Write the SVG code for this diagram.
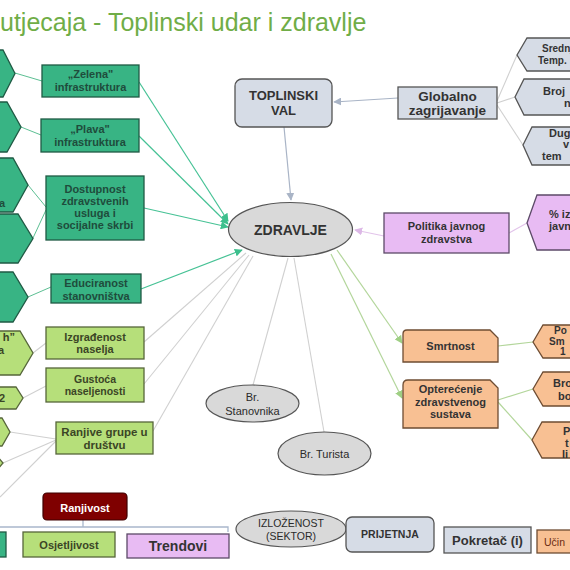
<svg xmlns="http://www.w3.org/2000/svg" width="570" height="570" viewBox="0 0 570 570">
<style>
text{font-family:"Liberation Sans",Arial,sans-serif;font-weight:bold;text-anchor:middle}
.dg{fill:#38b484;stroke:#1f5a44;stroke-width:1.3}
.lg{fill:#b6df7a;stroke:#56663a;stroke-width:1.3}
.pk{fill:#e8bbf3;stroke:#5c4a68;stroke-width:1.3}
.or{fill:#f8c093;stroke:#6e4c32;stroke-width:1.3}
.gb{fill:#d6dce6;stroke:#555;stroke-width:1.3}
.el{fill:#d9d9d9;stroke:#555;stroke-width:1.2}
.tdg{fill:#1f4c3c;font-size:11px}
.tlg{fill:#3b4526;font-size:11px}
.tk{fill:#333;font-size:11px}
.reg{font-weight:normal;fill:#2a2a2a}
.cg{stroke:#46c295;stroke-width:1.2;fill:none}
.cgl{stroke:#5cbf93;stroke-width:1;fill:none}
.cgr{stroke:#d0d0d0;stroke-width:1.1;fill:none}
.cb{stroke:#a9b4c6;stroke-width:1.2;fill:none}
.cp{stroke:#e2c4ea;stroke-width:1.2;fill:none}
.cl{stroke:#b3d69b;stroke-width:1.2;fill:none}
</style>
<defs>
<marker id="mG" viewBox="0 0 10 10" refX="9" refY="5" markerWidth="8" markerHeight="8" markerUnits="userSpaceOnUse" orient="auto"><path d="M0,0L10,5L0,10z" fill="#3dbf8d"/></marker>
<marker id="mB" viewBox="0 0 10 10" refX="9" refY="5" markerWidth="8" markerHeight="8" markerUnits="userSpaceOnUse" orient="auto"><path d="M0,0L10,5L0,10z" fill="#a9b4c6"/></marker>
<marker id="mP" viewBox="0 0 10 10" refX="9" refY="5" markerWidth="8" markerHeight="8" markerUnits="userSpaceOnUse" orient="auto"><path d="M0,0L10,5L0,10z" fill="#dcb8e6"/></marker>
<marker id="mL" viewBox="0 0 10 10" refX="9" refY="5" markerWidth="8" markerHeight="8" markerUnits="userSpaceOnUse" orient="auto"><path d="M0,0L10,5L0,10z" fill="#9fcf84"/></marker>
</defs>

<text x="0" y="31" style="font-size:25px;font-weight:normal;fill:#70ad47;text-anchor:start">utjecaja - Toplinski  udar i zdravlje</text>

<g id="connectors">
<line class="cg" x1="139" y1="82" x2="228" y2="221" marker-end="url(#mG)"/>
<line class="cg" x1="139" y1="136" x2="228" y2="224" marker-end="url(#mG)"/>
<line class="cg" x1="144" y1="208" x2="228" y2="227" marker-end="url(#mG)"/>
<line class="cg" x1="141" y1="289" x2="242" y2="250" marker-end="url(#mG)"/>
<line class="cgr" x1="144" y1="342" x2="246" y2="253"/>
<line class="cgr" x1="144" y1="384" x2="249" y2="255"/>
<line class="cgr" x1="153" y1="431" x2="253" y2="256"/>
<line class="cb" x1="398" y1="98" x2="334" y2="102" marker-end="url(#mB)"/>
<line class="cb" x1="284" y1="127" x2="291" y2="200" marker-end="url(#mB)"/>
<line class="cp" x1="384" y1="236" x2="355" y2="230" marker-end="url(#mP)"/>
<line class="cl" x1="337" y1="250" x2="402" y2="343" marker-end="url(#mL)"/>
<line class="cl" x1="331" y1="254" x2="402" y2="398" marker-end="url(#mL)"/>
<line class="cgr" x1="253" y1="385" x2="288" y2="258"/>
<line class="cgr" x1="324" y1="432" x2="294" y2="258"/>
<line class="cgl" x1="15" y1="73" x2="42" y2="81"/>
<line class="cgl" x1="21" y1="127" x2="41" y2="135"/>
<line class="cgl" x1="28" y1="185" x2="46" y2="207"/>
<line class="cgl" x1="33" y1="238" x2="46" y2="210"/>
<line class="cgl" x1="28" y1="297" x2="51" y2="287"/>
<line class="cgr" x1="33" y1="353" x2="46" y2="343"/>
<line class="cgr" x1="23" y1="398" x2="46" y2="386"/>
<line class="cgr" x1="10" y1="432" x2="56" y2="439"/>
<line class="cgr" x1="3" y1="463" x2="56" y2="440"/>
<line class="cgr" x1="0" y1="497" x2="56" y2="441"/>
<line class="cgr" x1="497" y1="101" x2="517" y2="55"/>
<line class="cgr" x1="497" y1="103" x2="515" y2="97"/>
<line class="cgr" x1="497" y1="105" x2="523" y2="145"/>
<line class="cp" x1="509" y1="233" x2="527" y2="223"/>
<line class="cl" x1="498" y1="346" x2="533" y2="342"/>
<line class="cl" x1="498" y1="400" x2="533" y2="389"/>
<line class="cl" x1="498" y1="402" x2="532" y2="440"/>
<path d="M0,527H228V532M83,520V527" stroke="#a9b7cc" stroke-width="1.3" fill="none"/>
</g>

<g id="hexL1"><polygon class="dg" points="-40,50 3,50 15,73.5 3,97 -40,97"/></g>
<g id="hexL2"><polygon class="dg" points="-40,102 7,102 21,127 7,152 -40,152"/></g>
<g id="hexL3"><polygon class="dg" points="-40,158 13,158 28,185 13,212 -40,212"/><text class="tdg" x="-1" y="207" style="text-anchor:start">a</text></g>
<g id="hexL4"><polygon class="dg" points="-40,214 18,214 33,238.5 18,263 -40,263"/></g>
<g id="hexL5"><polygon class="dg" points="-40,272 13,272 28,297 13,322 -40,322"/></g>
<g id="hexL6"><polygon class="lg" points="-40,331 20,331 33,353 20,375 -40,375"/><text class="tlg" x="15" y="341" style="text-anchor:end">h”</text><text class="tlg" x="4" y="354" style="text-anchor:end">a</text></g>
<g id="hexL7"><polygon class="lg" points="-40,387 16,387 23,398 16,409 -40,409"/><text class="tlg" x="5" y="402" style="text-anchor:end">2</text></g>
<g id="hexL8"><polygon class="lg" points="-40,418 2,418 10,432 2,446 -40,446"/></g>
<g id="hexL9"><polygon class="lg" points="-40,457 -2,457 3,463 -2,469 -40,469"/></g>

<g id="zelena"><rect class="dg" x="42" y="65" width="97" height="32"/><text class="tdg" x="90.5" y="78">„Zelena"</text><text class="tdg" x="90.5" y="91">infrastruktura</text></g>
<g id="plava"><rect class="dg" x="41" y="119" width="98" height="33"/><text class="tdg" x="90" y="133">„Plava"</text><text class="tdg" x="90" y="146">infrastruktura</text></g>
<g id="dostupnost"><rect class="dg" x="46" y="176" width="98" height="64"/><text class="tdg" x="95" y="193">Dostupnost</text><text class="tdg" x="95" y="205">zdravstvenih</text><text class="tdg" x="95" y="217">usluga  i</text><text class="tdg" x="95" y="229">socijalne skrbi</text></g>
<g id="educiranost"><rect class="dg" x="51" y="274" width="90" height="29"/><text class="tdg" x="96" y="287">Educiranost</text><text class="tdg" x="96" y="300">stanovništva</text></g>
<g id="izgradenost"><rect class="lg" x="46" y="327" width="98" height="32"/><text class="tlg" x="95" y="341">Izgrađenost</text><text class="tlg" x="95" y="353">naselja</text></g>
<g id="gustoca"><rect class="lg" x="46" y="368" width="98" height="34"/><text class="tlg" x="95" y="383" style="font-size:10.5px">Gustoća</text><text class="tlg" x="95" y="395" style="font-size:10.5px">naseljenosti</text></g>
<g id="ranjive"><rect class="lg" x="56" y="422" width="97" height="32"/><text class="tlg" x="104.5" y="436" style="font-size:11.5px">Ranjive grupe u</text><text class="tlg" x="104.5" y="449" style="font-size:11.5px">društvu</text></g>

<g id="ranjivost"><rect x="43" y="493" width="84" height="27" rx="4" fill="#7f0000" stroke="#3f0000" stroke-width="1.2"/><text x="85" y="512" style="fill:#fff;font-size:11px">Ranjivost</text></g>
<g id="legendDG"><rect class="dg" x="-40" y="532" width="46" height="25"/></g>
<g id="osjetljivost"><rect class="lg" x="23" y="532" width="92" height="25"/><text class="tlg" x="69" y="549">Osjetljivost</text></g>
<g id="trendovi"><rect class="pk" x="127" y="534" width="102" height="24"/><text class="tk" x="178" y="551" style="font-size:14px">Trendovi</text></g>

<g id="toplinski"><rect class="gb" x="235" y="79" width="97" height="48" rx="7"/><text class="tk" x="283.5" y="100" style="font-size:13px">TOPLINSKI</text><text class="tk" x="283.5" y="115" style="font-size:13px">VAL</text></g>
<g id="zdravlje"><ellipse class="el" cx="290.5" cy="229.5" rx="62" ry="27"/><text class="tk" x="290.5" y="235" style="font-size:14px">ZDRAVLJE</text></g>
<g id="globalno"><rect class="gb" x="398" y="87" width="99" height="32"/><text class="tk" x="447.5" y="101" style="font-size:13.5px">Globalno</text><text class="tk" x="447.5" y="115" style="font-size:13.5px">zagrijavanje</text></g>

<g id="hexR1"><polygon class="gb" points="517,55 527,38 600,38 600,71 527,71"/><text class="tk" x="542" y="52" style="font-size:10px;text-anchor:start">Srednj</text><text class="tk" x="538" y="64" style="font-size:10px;text-anchor:start">Temp.</text></g>
<g id="hexR2"><polygon class="gb" points="515,97 524,79 600,79 600,115 524,115"/><text class="tk" x="543" y="95" style="font-size:11px;text-anchor:start">Broj</text><text class="tk" x="564" y="107" style="font-size:11px;text-anchor:start">n</text></g>
<g id="hexR3"><polygon class="gb" points="523,145 532,127 600,127 600,165 532,165"/><text class="tk" x="549" y="137" style="font-size:11px;text-anchor:start">Dug</text><text class="tk" x="563" y="148" style="font-size:11px;text-anchor:start">v</text><text class="tk" x="542" y="160" style="font-size:11px;text-anchor:start">tem</text></g>

<g id="politika"><rect class="pk" x="384" y="213" width="125" height="40"/><text class="tk" x="446.5" y="230">Politika javnog</text><text class="tk" x="446.5" y="243">zdravstva</text></g>
<g id="hexPink"><polygon class="pk" points="527,223 537,195 600,195 600,250 537,250"/><text class="tk" x="549" y="218" style="text-anchor:start">% iz</text><text class="tk" x="549" y="230" style="text-anchor:start">javn</text></g>

<g id="smrtnost"><path class="or" d="M403,334Q403,330 407,330H490L498,338V362H403Z"/><text class="tk" x="450.5" y="350">Smrtnost</text></g>
<g id="opterecenje"><path class="or" d="M403,385Q403,380 408,380H490L498,388V428H403Z"/><text class="tk" x="450.5" y="393">Opterećenje</text><text class="tk" x="450.5" y="405.5">zdravstvenog</text><text class="tk" x="450.5" y="418">sustava</text></g>
<g id="hexO1"><polygon class="or" points="533,342 543,325 600,325 600,358 543,358"/><text class="tk" x="554" y="334" style="font-size:10px;text-anchor:start">Po</text><text class="tk" x="549" y="345" style="font-size:10px;text-anchor:start">Sm</text><text class="tk" x="560" y="355" style="font-size:10px;text-anchor:start">1</text></g>
<g id="hexO2"><polygon class="or" points="533,389 543,372 600,372 600,406 543,406"/><text class="tk" x="553" y="387" style="font-size:11px;text-anchor:start">Bro</text><text class="tk" x="558" y="400" style="font-size:11px;text-anchor:start">bo</text></g>
<g id="hexO3"><polygon class="or" points="532,440 542,422 600,422 600,458 542,458"/><text class="tk" x="563" y="435" style="font-size:11px;text-anchor:start">P</text><text class="tk" x="565" y="447" style="font-size:11px;text-anchor:start">t</text><text class="tk" x="562" y="458" style="font-size:11px;text-anchor:start">li</text></g>

<g id="stanovnika"><ellipse class="el" cx="252.5" cy="403.5" rx="46.5" ry="18.5"/><text class="tk reg" x="252.5" y="401">Br.</text><text class="tk reg" x="252.5" y="415">Stanovnika</text></g>
<g id="turista"><ellipse class="el" cx="324.5" cy="453.5" rx="46.5" ry="21.5"/><text class="tk reg" x="324.5" y="458">Br. Turista</text></g>

<g id="izlozenost"><ellipse class="el" cx="291" cy="529" rx="55" ry="18"/><text class="tk reg" x="291" y="527" style="font-size:10.5px">IZLOŽENOST</text><text class="tk reg" x="291" y="540" style="font-size:10.5px">(SEKTOR)</text></g>
<g id="prijetnja"><rect class="gb" x="346" y="517" width="88" height="35" rx="6"/><text class="tk" x="390" y="538" style="font-size:10.5px">PRIJETNJA</text></g>
<g id="pokretac"><rect class="gb" x="444" y="527" width="87" height="26"/><text class="tk" x="487.5" y="545" style="font-size:13px">Pokretač (i)</text></g>
<g id="ucinak"><rect class="or" x="537" y="530" width="60" height="23"/><text x="544" y="546" style="font-size:10.5px;font-weight:normal;fill:#6b2a10;text-anchor:start">Učin</text></g>
</svg>
